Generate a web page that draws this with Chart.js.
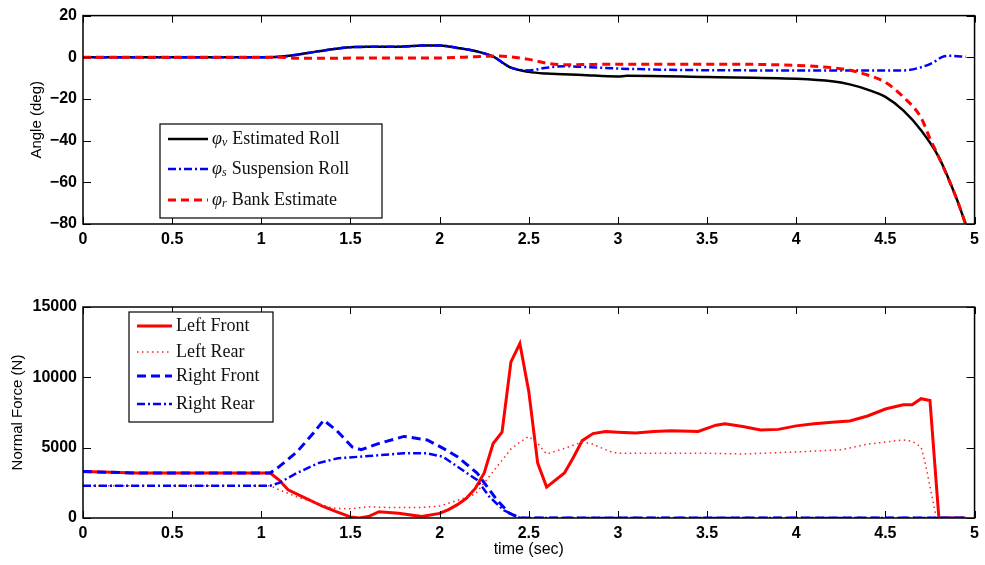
<!DOCTYPE html>
<html>
<head>
<title>Roll Angle and Normal Force</title>
<script src="https://cdn.jsdelivr.net/npm/chart.js"></script>
<style>
    body { margin: 0; background: #fff; }
    canvas { position: absolute; left: 0; }
    #angle { top: 0; }
    #force { top: 265px; }
</style>
</head>
<body>
<canvas id="angle" width="985" height="265"></canvas>
<canvas id="force" width="985" height="300"></canvas>
<script>
    // top plot: roll angles (deg) vs time (sec)
    var rollT = [0, 1.0, 1.1, 1.2, 1.3, 1.4, 1.5, 1.6, 1.7, 1.8, 1.9, 2.0, 2.1, 2.2, 2.3, 2.4, 2.5, 2.6, 2.8, 3.0, 3.05, 3.5, 4.0, 4.2, 4.3, 4.4, 4.5, 4.6, 4.7, 4.8, 4.9, 4.95];
    var rollV = [0, 0, 0.2, 1.2, 2.6, 3.9, 4.8, 5.0, 5.0, 5.2, 5.6, 5.7, 4.5, 3.0, 0.3, -5.0, -7.0, -7.8, -8.5, -9.2, -8.9, -9.5, -10.3, -11.5, -13, -15.5, -19, -25.5, -35, -48, -68, -80];

    var suspT = [0, 1.0, 1.1, 1.2, 1.3, 1.4, 1.5, 1.6, 1.7, 1.8, 1.9, 2.0, 2.1, 2.2, 2.3, 2.4, 2.5, 2.6, 2.7, 2.8, 3.0, 3.5, 4.0, 4.6, 4.7, 4.77, 4.82, 4.87, 4.95];
    var suspV = [0, 0, 0.2, 1.2, 2.6, 3.9, 4.8, 5.0, 5.0, 5.2, 5.6, 5.7, 4.5, 3.0, 0.3, -5.0, -6.3, -5.0, -4.3, -4.6, -5.4, -6.2, -6.3, -6.3, -4.8, -2.4, 0.2, 0.7, 0.2];

    var bankT = [0, 1.1, 1.2, 1.5, 2.0, 2.2, 2.3, 2.4, 2.5, 2.6, 2.7, 2.8, 3.0, 3.5, 4.0, 4.2, 4.3, 4.4, 4.5, 4.6, 4.7, 4.75, 4.8, 4.9, 4.95];
    var bankV = [0, 0, -0.5, -0.4, -0.3, 0.3, 0.6, 0.2, -1.0, -2.8, -3.6, -3.5, -3.3, -3.3, -3.9, -5.0, -6.2, -8.5, -12, -19, -29, -39, -48, -68, -80];

    // bottom plot: normal forces (N) vs time (sec)
    var lfT = [0, 0.3, 1.05, 1.1, 1.15, 1.25, 1.35, 1.42, 1.5, 1.55, 1.6, 1.66, 1.77, 1.9, 2.0, 2.05, 2.1, 2.15, 2.2, 2.25, 2.3, 2.35, 2.4, 2.45, 2.5, 2.55, 2.6, 2.7, 2.75, 2.8, 2.86, 2.93, 3.0, 3.1, 3.2, 3.3, 3.45, 3.55, 3.6, 3.7, 3.8, 3.9, 4.0, 4.1, 4.2, 4.3, 4.4, 4.5, 4.6, 4.65, 4.7, 4.75, 4.8, 4.95];
    var lfV = [3300, 3200, 3200, 2700, 2000, 1400, 800, 450, 80, 0, 100, 450, 330, 100, 330, 600, 950, 1400, 2100, 3200, 5300, 6100, 11100, 12400, 9000, 3900, 2200, 3200, 4300, 5500, 6000, 6150, 6100, 6050, 6150, 6200, 6150, 6600, 6700, 6500, 6250, 6300, 6550, 6700, 6800, 6900, 7250, 7750, 8050, 8050, 8480, 8350, 0, 0];

    var lrT = [0, 1.05, 1.1, 1.2, 1.3, 1.4, 1.5, 1.6, 1.7, 1.9, 2.0, 2.1, 2.2, 2.3, 2.4, 2.45, 2.5, 2.55, 2.6, 2.7, 2.8, 2.85, 2.95, 3.0, 3.5, 3.7, 4.0, 4.25, 4.4, 4.5, 4.6, 4.65, 4.7, 4.72, 4.75, 4.78, 4.8, 4.95];
    var lrV = [2300, 2300, 2000, 1500, 1100, 700, 650, 800, 750, 750, 850, 1250, 1700, 3300, 4900, 5400, 5800, 5300, 4550, 4950, 5400, 5300, 4750, 4600, 4600, 4550, 4700, 4850, 5250, 5400, 5550, 5450, 5050, 4100, 2250, 350, 0, 0];

    var rfT = [0, 0.3, 1.05, 1.1, 1.2, 1.29, 1.35, 1.42, 1.51, 1.56, 1.66, 1.8, 1.93, 2.02, 2.1, 2.21, 2.32, 2.39, 2.45, 4.95];
    var rfV = [3300, 3200, 3200, 3650, 4700, 6000, 6950, 6250, 5050, 4850, 5300, 5800, 5550, 4950, 4350, 3200, 1300, 350, 0, 0];

    var rrT = [0, 1.05, 1.1, 1.2, 1.32, 1.43, 1.6, 1.8, 1.93, 2.02, 2.1, 2.21, 2.28, 2.36, 2.45, 4.95];
    var rrV = [2300, 2300, 2500, 3200, 3900, 4250, 4400, 4600, 4600, 4350, 3650, 2700, 1500, 550, 0, 0];

    function pts(t, v) {
        return t.map(function (x, i) { return {x: x, y: v[i]}; });
    }

    // draws the closed box and inward MATLAB-style ticks on all four sides
    var boxTicks = {
        id: 'boxTicks',
        afterDatasetsDraw: function (chart) {
            var ctx = chart.ctx, a = chart.chartArea;
            var xs = chart.scales.x, ys = chart.scales.y;
            ctx.save();
            ctx.strokeStyle = '#000';
            ctx.lineWidth = 1;
            xs.ticks.forEach(function (t) {
                var px = Math.round(xs.getPixelForValue(t.value)) + 0.5;
                ctx.beginPath();
                ctx.moveTo(px, a.bottom); ctx.lineTo(px, a.bottom - 7);
                ctx.moveTo(px, a.top); ctx.lineTo(px, a.top + 7);
                ctx.stroke();
            });
            ys.ticks.forEach(function (t) {
                var py = Math.round(ys.getPixelForValue(t.value)) + 0.5;
                ctx.beginPath();
                ctx.moveTo(a.left, py); ctx.lineTo(a.left + 8, py);
                ctx.moveTo(a.right, py); ctx.lineTo(a.right - 8, py);
                ctx.stroke();
            });
            ctx.lineWidth = 1.5;
            ctx.strokeRect(a.left, a.top, a.right - a.left, a.bottom - a.top);
            ctx.restore();
        }
    };

    // legend box inside the axes, latex-ish labels
    var boxLegend = {
        id: 'boxLegend',
        afterDraw: function (chart, args, opts) {
            var ctx = chart.ctx;
            ctx.save();
            ctx.fillStyle = '#fff';
            ctx.fillRect(opts.x, opts.y, opts.w, opts.h);
            ctx.strokeStyle = '#000';
            ctx.lineWidth = 1.2;
            ctx.strokeRect(opts.x, opts.y, opts.w, opts.h);
            ctx.textBaseline = 'middle';
            opts.items.forEach(function (it) {
                var ds = chart.data.datasets[it.index];
                ctx.strokeStyle = ds.borderColor;
                ctx.lineWidth = ds.borderWidth;
                ctx.setLineDash(ds.borderDash || []);
                ctx.beginPath();
                ctx.moveTo(opts.x + 8, it.y);
                ctx.lineTo(opts.x + 8 + opts.sample, it.y);
                ctx.stroke();
                ctx.setLineDash([]);
                ctx.fillStyle = '#111';
                var tx = opts.x + 12 + opts.sample;
                if (it.sym) {
                    ctx.font = 'italic 18px "Liberation Serif"';
                    ctx.fillText(it.sym, tx, it.y);
                    tx += ctx.measureText(it.sym).width;
                    ctx.font = 'italic 12px "Liberation Serif"';
                    ctx.fillText(it.sub, tx, it.y + 4);
                    tx += ctx.measureText(it.sub).width + 5;
                }
                ctx.font = '18px "Liberation Serif"';
                ctx.fillText(it.text, tx, it.y);
            });
            ctx.restore();
        }
    };

    Chart.defaults.font.family = '"Liberation Sans", Arial, sans-serif';
    Chart.defaults.color = '#000';

    function tickFont() { return {size: 16, weight: 'bold'}; }
    function plainNum(v) { return String(v).replace('-', '\u2212'); }

    var angleChart = new Chart(document.getElementById('angle'), {
        type: 'line',
        data: {
            datasets: [{
                label: 'Estimated Roll',
                data: pts(rollT, rollV),
                borderColor: '#000000',
                borderWidth: 2.5,
                order: 3
            }, {
                label: 'Suspension Roll',
                data: pts(suspT, suspV),
                borderColor: '#0000ff',
                borderWidth: 2.5,
                borderDash: [8, 3, 2, 3],
                order: 2
            }, {
                label: 'Bank Estimate',
                data: pts(bankT, bankV),
                borderColor: '#ff0000',
                borderWidth: 3,
                borderDash: [8, 5],
                order: 1
            }]
        },
        options: {
            responsive: false,
            animation: false,
            parsing: false,
            elements: {point: {radius: 0}, line: {cubicInterpolationMode: 'monotone'}},
            layout: {padding: {top: 13, right: 9, left: 0, bottom: 0}},
            scales: {
                x: {
                    type: 'linear', min: 0, max: 5,
                    ticks: {stepSize: 0.5, font: tickFont(), padding: 6, maxRotation: 0, callback: plainNum},
                    grid: {display: false, drawTicks: false},
                    border: {display: false},
                    afterFit: function (s) { s.height = 41; }
                },
                y: {
                    min: -80, max: 20,
                    ticks: {stepSize: 20, font: tickFont(), padding: 6, callback: plainNum},
                    grid: {display: false, drawTicks: false},
                    border: {display: false},
                    title: {display: true, text: 'Angle (deg)', font: {size: 15}, padding: {top: 28}},
                    afterFit: function (s) { s.width = 83; }
                }
            },
            plugins: {
                legend: {display: false},
                tooltip: {enabled: false},
                boxLegend: {
                    x: 160, y: 124, w: 222, h: 94, sample: 40,
                    items: [
                        {index: 0, y: 139, sym: '\u03c6', sub: 'v', text: 'Estimated Roll'},
                        {index: 1, y: 169, sym: '\u03c6', sub: 's', text: 'Suspension Roll'},
                        {index: 2, y: 200, sym: '\u03c6', sub: 'r', text: 'Bank Estimate'}
                    ]
                }
            }
        },
        plugins: [boxTicks, boxLegend]
    });

    var forceChart = new Chart(document.getElementById('force'), {
        type: 'line',
        data: {
            datasets: [{
                label: 'Left Front',
                data: pts(lfT, lfV),
                borderColor: '#ff0000',
                borderWidth: 3,
                order: 4
            }, {
                label: 'Left Rear',
                data: pts(lrT, lrV),
                borderColor: '#ff2020',
                borderWidth: 1.5,
                borderDash: [1.5, 3.5],
                order: 3
            }, {
                label: 'Right Front',
                data: pts(rfT, rfV),
                borderColor: '#0000ff',
                borderWidth: 3,
                borderDash: [9, 5],
                order: 2
            }, {
                label: 'Right Rear',
                data: pts(rrT, rrV),
                borderColor: '#0000ff',
                borderWidth: 2.5,
                borderDash: [8, 3, 2, 3],
                order: 1
            }]
        },
        options: {
            responsive: false,
            animation: false,
            parsing: false,
            elements: {point: {radius: 0}, line: {tension: 0}},
            layout: {padding: {top: 42, right: 9, left: 0, bottom: 0}},
            scales: {
                x: {
                    type: 'linear', min: 0, max: 5,
                    ticks: {stepSize: 0.5, font: tickFont(), padding: 6, maxRotation: 0, callback: plainNum},
                    grid: {display: false, drawTicks: false},
                    border: {display: false},
                    title: {display: true, text: 'time (sec)', font: {size: 16}, padding: {top: 0, bottom: 6}},
                    afterFit: function (s) { s.height = 47; }
                },
                y: {
                    min: 0, max: 15000,
                    ticks: {stepSize: 5000, font: tickFont(), padding: 6, callback: plainNum},
                    grid: {display: false, drawTicks: false},
                    border: {display: false},
                    title: {display: true, text: 'Normal Force (N)', font: {size: 15}, padding: {top: 9}},
                    afterFit: function (s) { s.width = 83; }
                }
            },
            plugins: {
                legend: {display: false},
                tooltip: {enabled: false},
                boxLegend: {
                    x: 129, y: 47, w: 144, h: 110, sample: 35,
                    items: [
                        {index: 0, y: 61, text: 'Left Front'},
                        {index: 1, y: 87, text: 'Left Rear'},
                        {index: 2, y: 111, text: 'Right Front'},
                        {index: 3, y: 139, text: 'Right Rear'}
                    ]
                }
            }
        },
        plugins: [boxTicks, boxLegend]
    });
</script>
</body>
</html>
